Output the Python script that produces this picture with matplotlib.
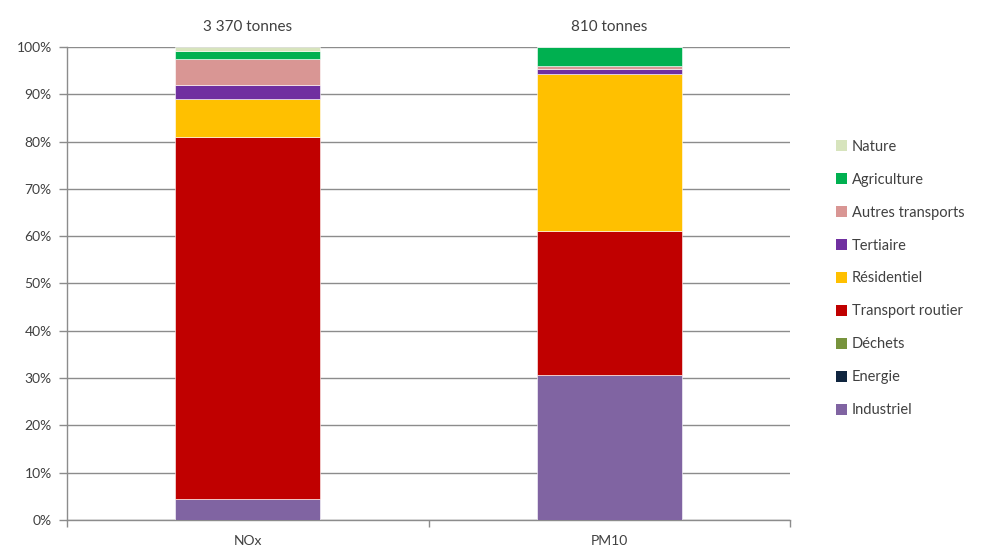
import matplotlib
matplotlib.use("Agg")
import matplotlib.pyplot as plt
from matplotlib.patches import Patch
from matplotlib.ticker import FixedLocator, PercentFormatter

# Emission shares (%) by sector for each pollutant
pollutants = ["NOx", "PM10"]
totals = ["3 370 tonnes", "810 tonnes"]
sectors = ["Industriel", "Energie", "Déchets", "Transport routier", "Résidentiel",
           "Tertiaire", "Autres transports", "Agriculture", "Nature"]
industriel = [4.4, 30.6]
energie = [0.0, 0.0]
dechets = [0.0, 0.1]
transport_routier = [76.6, 30.3]
residentiel = [7.9, 33.2]
tertiaire = [3.0, 1.1]
autres_transports = [5.5, 0.7]
agriculture = [1.8, 4.0]
nature = [0.8, 0.0]

series = [industriel, energie, dechets, transport_routier, residentiel,
          tertiaire, autres_transports, agriculture, nature]
colors = ["#8064a2", "#10253f", "#77933c", "#c00000", "#ffc000",
          "#7030a0", "#d99694", "#00b050", "#d7e4bd"]

plt.rcParams["font.family"] = ["Lato", "DejaVu Sans"]
text_color = "#404040"
grid_color = "#8c8c8c"

fig = plt.figure(figsize=(9.81, 5.52), dpi=100)
ax = fig.add_axes([0.0683, 0.058, 0.737, 0.857])

x = list(range(len(pollutants)))
bottom = [0.0] * len(pollutants)
for vals, col in zip(series, colors):
    ax.bar(x, vals, width=0.4, bottom=bottom, color=col,
           edgecolor="white", linewidth=0.4, zorder=3)
    bottom = [b + v for b, v in zip(bottom, vals)]

ax.set_xlim(-0.5, 1.5)
ax.set_ylim(0, 100)
ax.yaxis.set_major_locator(FixedLocator(range(0, 101, 10)))
ax.yaxis.set_major_formatter(PercentFormatter(decimals=0))
ax.grid(axis="y", color=grid_color, linewidth=1.0, zorder=0)

ax.set_xticks(x)
ax.set_xticklabels(pollutants)
ax.xaxis.set_minor_locator(FixedLocator([-0.5, 0.5, 1.5]))
ax.tick_params(axis="x", which="major", length=0, pad=11,
               labelsize=10, labelcolor=text_color)
ax.tick_params(axis="x", which="minor", length=5, color=grid_color, width=1)
ax.tick_params(axis="y", length=6, color=grid_color, width=1, pad=5,
               labelsize=10, labelcolor=text_color)

for side in ("top", "right"):
    ax.spines[side].set_visible(False)
for side in ("left", "bottom"):
    ax.spines[side].set_color(grid_color)
    ax.spines[side].set_linewidth(1.0)

# Annual total above each bar
for xi, label in zip(x, totals):
    ax.annotate(label, xy=(xi, 100), xytext=(0, 9), textcoords="offset points",
                ha="center", va="bottom", fontsize=11, color=text_color)

handles = [Patch(facecolor=c, edgecolor="none") for c in colors]
leg = fig.legend(handles[::-1], sectors[::-1], loc="upper left",
                 bbox_to_anchor=(0.852, 0.747), frameon=False,
                 handlelength=0.75, handleheight=0.75, handletextpad=0.35,
                 labelspacing=1.3, fontsize=10.5, labelcolor=text_color,
                 borderaxespad=0, borderpad=0)

fig.savefig("out.png", dpi=100, facecolor="white")
